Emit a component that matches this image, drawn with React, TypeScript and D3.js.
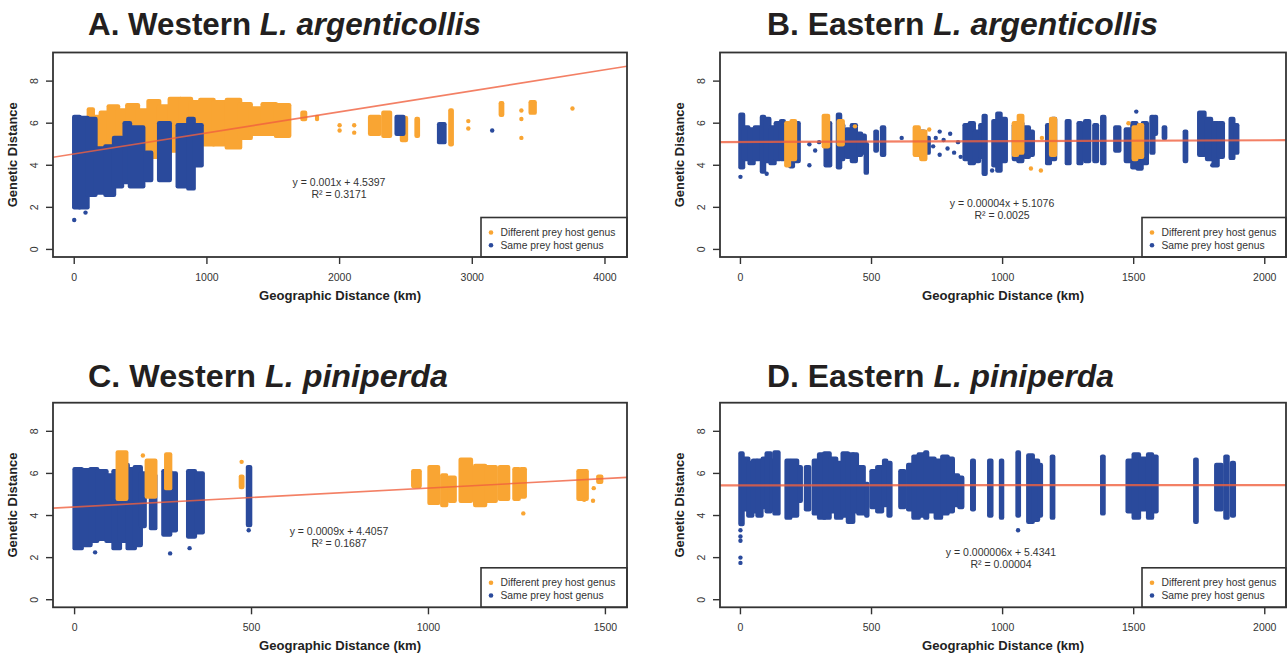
import React from "react";
import * as d3 from "d3";

// Dense point columns are stored as strips [kmFrom, kmTo, distLow, distHigh],
// lone points as [km, dist]. "diff" = different prey host genus, "same" = same genus.

// A. Western L. argenticollis
const aDiff = [
  [110, 140, 4.6, 6.65], [140, 200, 4.5, 6.3], [200, 260, 4.4, 6.5], [260, 330, 4.2, 6.8],
  [330, 400, 4.3, 6.6], [400, 480, 4.4, 6.85], [480, 560, 4.5, 6.6], [560, 640, 4.4, 7.05],
  [640, 720, 4.6, 6.8], [720, 800, 4.7, 7.15], [800, 880, 4.8, 7.15], [880, 950, 4.9, 7.0],
  [950, 1050, 5.0, 7.1], [1050, 1150, 5.0, 7.0], [1150, 1250, 4.85, 7.1], [1250, 1330, 5.3, 6.9],
  [1330, 1420, 5.5, 6.7], [1420, 1520, 5.5, 6.9], [1520, 1620, 5.4, 6.85], [1720, 1740, 6.2, 6.5],
  [2230, 2300, 5.5, 6.3], [2330, 2380, 5.4, 6.5], [2470, 2500, 5.2, 6.25], [2580, 2590, 5.4, 6.2],
  [2835, 2845, 5.0, 6.6], [3215, 3225, 6.4, 6.95], [3440, 3470, 6.5, 7.0],
];
const aDiffPts = [
  [1830, 6.2], [1830, 6.3], [2000, 5.65], [2000, 5.9], [2110, 5.55], [2110, 5.9],
  [2970, 5.75], [2970, 6.1], [3370, 5.3], [3370, 6.2], [3370, 6.6], [3755, 6.7],
];
const aSame = [
  [0, 40, 2.0, 6.3], [40, 100, 2.0, 6.25], [100, 160, 2.6, 6.2], [165, 235, 2.7, 4.8],
  [235, 300, 2.6, 4.9], [300, 360, 3.0, 5.3], [380, 420, 3.2, 6.0], [420, 520, 3.0, 5.8],
  [540, 580, 3.3, 4.6], [640, 720, 3.3, 6.0], [780, 860, 3.0, 5.9], [860, 900, 2.9, 6.2],
  [910, 960, 4.0, 5.9], [2430, 2480, 5.5, 6.3], [2750, 2790, 5.1, 5.95],
];
const aSamePts = [[0, 1.4], [85, 1.75], [870, 2.95], [3150, 5.65]];

// B. Eastern L. argenticollis
const bSame = [
  [0, 10, 3.9, 6.4], [14, 30, 4.3, 5.8], [35, 50, 4.1, 5.7], [55, 72, 4.3, 5.8],
  [82, 90, 3.7, 6.3], [95, 110, 4.2, 6.2], [115, 130, 4.1, 5.8], [135, 150, 4.3, 6.0],
  [155, 165, 4.3, 6.1], [190, 200, 3.95, 5.8], [210, 222, 4.2, 6.0], [325, 342, 4.0, 6.0],
  [372, 380, 3.9, 6.4], [385, 392, 4.3, 5.9], [405, 415, 4.4, 5.7], [425, 440, 4.2, 5.9],
  [450, 460, 4.5, 5.5], [468, 474, 4.6, 5.4], [478, 482, 3.65, 5.0], [515, 520, 4.7, 5.6],
  [540, 548, 4.5, 5.8], [690, 700, 4.4, 5.6], [710, 718, 4.6, 5.3], [855, 870, 4.3, 5.9],
  [875, 890, 4.1, 6.0], [895, 910, 4.2, 5.6], [915, 925, 4.4, 5.9], [928, 935, 3.6, 6.35],
  [965, 975, 4.0, 6.1], [980, 992, 3.75, 6.45], [998, 1012, 4.2, 6.2], [1043, 1055, 4.3, 5.9],
  [1060, 1075, 4.2, 6.0], [1085, 1100, 4.4, 5.8], [1105, 1115, 4.5, 5.6], [1170, 1180, 4.1, 5.9],
  [1190, 1200, 4.3, 6.2], [1245, 1255, 4.1, 6.1], [1290, 1300, 4.1, 6.0], [1315, 1330, 4.2, 6.1],
  [1350, 1360, 4.2, 5.9], [1380, 1388, 4.1, 6.3], [1430, 1445, 4.7, 5.8], [1470, 1485, 4.2, 5.7],
  [1495, 1510, 3.9, 6.0], [1515, 1530, 3.85, 5.9], [1535, 1550, 4.1, 6.0], [1568, 1575, 4.6, 6.3],
  [1580, 1585, 5.5, 6.3], [1615, 1620, 5.3, 5.8], [1695, 1700, 4.2, 5.6], [1750, 1770, 4.5, 6.5],
  [1780, 1795, 4.3, 6.2], [1805, 1820, 4.0, 6.0], [1825, 1840, 4.4, 6.0], [1870, 1880, 4.35, 6.2],
  [1888, 1895, 4.6, 5.9],
];
const bSamePts = [
  [0, 3.45], [100, 3.6], [263, 4.0], [263, 5.0], [285, 4.7], [300, 5.1], [615, 5.3],
  [735, 4.9], [745, 5.3], [760, 4.5], [760, 5.6], [775, 5.2], [790, 4.8], [800, 5.5],
  [815, 4.6], [830, 5.1], [840, 4.4], [960, 3.75], [1510, 6.55], [1800, 4.0],
];
const bDiff = [
  [175, 185, 4.0, 6.0], [195, 208, 4.3, 6.1], [318, 334, 4.9, 6.35], [375, 390, 5.0, 6.1],
  [665, 680, 4.5, 5.8], [690, 705, 4.3, 5.6], [1043, 1055, 4.5, 6.0], [1062, 1075, 4.6, 6.35],
  [1185, 1200, 4.5, 6.2], [1500, 1510, 4.3, 5.8], [1520, 1532, 4.4, 5.9],
];
const bDiffPts = [[437, 5.85], [720, 5.7], [1108, 3.85], [1146, 3.75], [1150, 5.3], [1480, 6.0]];

// C. Western L. piniperda
const cSame = [
  [0, 20, 2.45, 6.2], [20, 45, 2.6, 6.15], [45, 64, 2.8, 6.2], [64, 90, 2.9, 6.1],
  [90, 110, 2.8, 5.9], [110, 128, 2.45, 6.1], [128, 150, 2.8, 6.4], [150, 170, 2.45, 6.2],
  [170, 187, 2.6, 6.3], [187, 198, 3.5, 6.0], [216, 228, 3.4, 5.9], [251, 270, 3.1, 6.1],
  [275, 286, 3.3, 6.0], [321, 340, 3.0, 6.1], [345, 362, 3.2, 6.0], [490, 496, 3.55, 6.3],
];
const cSamePts = [[58, 2.25], [270, 2.2], [325, 2.45], [492, 3.3]];
const cDiff = [
  [122, 146, 4.8, 7.0], [204, 228, 4.9, 6.6], [259, 270, 5.3, 6.9], [470, 474, 5.35, 5.85],
  [957, 975, 5.4, 6.1], [1003, 1027, 4.6, 6.3], [1039, 1050, 4.5, 5.9], [1060, 1074, 4.7, 5.8],
  [1091, 1120, 4.7, 6.65], [1132, 1160, 4.5, 6.35], [1165, 1190, 4.7, 6.3], [1202, 1225, 4.8, 6.3],
  [1243, 1255, 4.8, 6.2], [1262, 1272, 4.9, 6.2], [1424, 1447, 4.8, 6.1], [1480, 1488, 5.6, 5.85],
];
const cDiffPts = [[193, 6.85], [472, 6.55], [1268, 4.1], [1440, 4.75], [1465, 4.7], [1467, 5.3]];

// D. Eastern L. piniperda
const dSame = [
  [0, 8, 3.6, 6.95], [12, 30, 4.3, 6.7], [30, 45, 4.0, 6.5], [48, 62, 4.2, 6.6],
  [65, 80, 4.0, 6.6], [85, 100, 4.4, 6.7], [100, 115, 4.2, 6.95], [118, 130, 4.3, 6.6],
  [130, 145, 4.1, 7.0], [176, 190, 3.9, 6.6], [195, 216, 4.0, 6.6], [225, 230, 4.7, 6.3],
  [250, 262, 4.3, 6.3], [280, 300, 4.1, 6.6], [300, 320, 3.9, 6.9], [320, 340, 3.9, 6.95],
  [345, 365, 4.2, 6.7], [365, 385, 3.9, 6.5], [390, 410, 4.0, 6.95], [410, 430, 3.7, 6.9],
  [430, 444, 4.2, 6.9], [450, 470, 4.1, 6.3], [480, 484, 4.0, 5.5], [500, 515, 4.4, 6.1],
  [522, 540, 4.2, 6.3], [548, 556, 4.5, 6.6], [565, 572, 4.0, 6.5], [610, 625, 4.4, 6.1],
  [640, 660, 4.3, 6.4], [660, 680, 3.9, 6.8], [680, 700, 4.0, 6.9], [705, 712, 3.9, 7.0],
  [720, 740, 4.2, 6.7], [745, 765, 3.9, 6.6], [770, 790, 4.1, 6.8], [795, 810, 4.2, 6.7],
  [815, 830, 4.5, 5.9], [835, 846, 4.4, 5.8], [884, 890, 4.3, 6.6], [949, 957, 4.0, 6.6],
  [994, 998, 3.9, 6.6], [1057, 1062, 4.0, 7.0], [1098, 1115, 3.7, 6.85], [1120, 1135, 3.8, 6.6],
  [1140, 1146, 4.0, 6.4], [1188, 1193, 3.9, 6.8], [1380, 1385, 4.1, 6.8], [1477, 1495, 4.2, 6.6],
  [1500, 1520, 3.9, 6.9], [1525, 1545, 4.3, 6.7], [1555, 1570, 3.9, 6.9], [1575, 1587, 4.2, 6.8],
  [1735, 1740, 3.7, 6.65], [1815, 1835, 4.3, 6.4], [1850, 1858, 3.9, 6.8], [1875, 1882, 4.0, 6.5],
];
const dSamePts = [[0, 1.75], [0, 2.0], [0, 2.8], [0, 3.0], [0, 3.3], [1059, 3.3]];
const dDiff: number[][] = [];
const dDiffPts: number[][] = [];

const titlePrefix = ["A. Western ", "B. Eastern ", "C. Western ", "D. Eastern "];
const titleSpecies = ["L. argenticollis", "L. argenticollis", "L. piniperda", "L. piniperda"];
const slopes = [0.001, 0.00004, 0.0009, 0.000006];
const intercepts = [4.5397, 5.1076, 4.4057, 5.4341];
const eqLabels = ["y = 0.001x + 4.5397", "y = 0.00004x + 5.1076", "y = 0.0009x + 4.4057", "y = 0.000006x + 5.4341"];
const r2Labels = ["R² = 0.3171", "R² = 0.0025", "R² = 0.1687", "R² = 0.00004"];
const xTicksA = [0, 1000, 2000, 3000, 4000];
const xTicksB = [0, 500, 1000, 1500, 2000];
const xTicksC = [0, 500, 1000, 1500];
const yTicks = [0, 2, 4, 6, 8];
const legendLabels = ["Different prey host genus", "Same prey host genus"];

const ORANGE = "#F9A533";
const BLUE = "#2A4A9C";
const INK = "#333333";
const FONT = "'Liberation Sans', Arial, sans-serif";

function Panel(p: any) {
  const [bx0, by0, bx1, by1] = p.box;
  const x = d3.scaleLinear().domain(p.xDomain).range([bx0, bx1]);
  const y = d3.scaleLinear().domain([-0.36, 9.36]).range([by1, by0]);
  const r = 2.2;
  const fitLine = d3.line<number>().x((d) => x(d)).y((d) => y(p.slope * d + p.intercept));

  const strips = (list: number[][], color: string, key: string) =>
    list.map((s, i) => (
      <rect key={key + i} x={x(s[0]) - r} width={x(s[1]) - x(s[0]) + 2 * r}
        y={y(s[3]) - r} height={y(s[2]) - y(s[3]) + 2 * r} rx={r} fill={color} />
    ));
  const dots = (list: number[][], color: string, key: string) =>
    list.map((d, i) => <circle key={key + i} cx={x(d[0])} cy={y(d[1])} r={r} fill={color} />);

  const orange = [strips(p.diff, ORANGE, "od"), dots(p.diffPts, ORANGE, "op")];
  const blue = [strips(p.same, BLUE, "bs"), dots(p.samePts, BLUE, "bp")];
  const cx = (bx0 + bx1) / 2;
  const lx = bx1 - p.legendW;
  const ly = by1 - 39.5;

  return (
    <g fontFamily={FONT}>
      <clipPath id={"clip" + p.id}>
        <rect x={bx0} y={by0} width={bx1 - bx0} height={by1 - by0} />
      </clipPath>
      <text x={p.titleX} y={p.titleY} fontSize={31} fontWeight="bold" fill="#231F20"
        textLength={p.titleLen} lengthAdjust="spacingAndGlyphs">
        {p.prefix}<tspan fontStyle="italic">{p.species}</tspan>
      </text>
      <g clipPath={`url(#clip${p.id})`}>
        {p.blueOnTop ? [orange, blue] : [blue, orange]}
        <path d={fitLine(p.xDomain) || ""} stroke="#F0603F" strokeOpacity={0.8} strokeWidth={p.lineW} fill="none" />
      </g>
      {yTicks.map((t) => (
        <g key={"y" + t}>
          <line x1={bx0 - 7} x2={bx0} y1={y(t)} y2={y(t)} stroke={INK} strokeWidth={1.4} />
          <text transform={`translate(${bx0 - 19},${y(t)}) rotate(-90)`} textAnchor="middle"
            dominantBaseline="central" fontSize={10.5} fill={INK}>{t}</text>
        </g>
      ))}
      {p.xTicks.map((t: number) => (
        <g key={"x" + t}>
          <line x1={x(t)} x2={x(t)} y1={by1} y2={by1 + 7} stroke={INK} strokeWidth={1.4} />
          <text x={x(t)} y={by1 + 20} textAnchor="middle" dominantBaseline="central" fontSize={10.5} fill={INK}>{t}</text>
        </g>
      ))}
      <text transform={`translate(${bx0 - 40},${(by0 + by1) / 2}) rotate(-90)`} textAnchor="middle"
        dominantBaseline="central" fontSize={12} fontWeight="bold" fill="#222"
        textLength={105} lengthAdjust="spacingAndGlyphs">Genetic Distance</text>
      <text x={cx} y={by1 + 39} textAnchor="middle" dominantBaseline="central" fontSize={12}
        fontWeight="bold" fill="#222" textLength={162} lengthAdjust="spacingAndGlyphs">Geographic Distance (km)</text>
      <text x={p.eqX} y={p.eqY} textAnchor="middle" dominantBaseline="central" fontSize={10.5} fill={INK}>{p.eq}</text>
      <text x={p.eqX} y={p.eqY + 12.5} textAnchor="middle" dominantBaseline="central" fontSize={10.5} fill={INK}>{p.r2}</text>
      <rect x={lx} y={ly} width={p.legendW} height={by1 - ly} fill="white" stroke={INK} strokeWidth={1.6} />
      {legendLabels.map((l, i) => (
        <g key={l}>
          <circle cx={lx + 10} cy={ly + 15 + i * 12.7} r={2.3} fill={i === 0 ? ORANGE : BLUE} />
          <text x={lx + 19.5} y={ly + 15 + i * 12.7} dominantBaseline="central" fontSize={10.3} fill={INK}>{l}</text>
        </g>
      ))}
      <rect x={bx0} y={by0} width={bx1 - bx0} height={by1 - by0} fill="none" stroke={INK} strokeWidth={1.8} />
    </g>
  );
}

export default function App() {
  const panels = [
    { box: [53, 52.5, 627, 257], xDomain: [-160, 4166], xTicks: xTicksA, same: aSame, samePts: aSamePts,
      diff: aDiff, diffPts: aDiffPts, blueOnTop: true, titleX: 88, titleY: 35, titleLen: 393,
      eqX: 339, eqY: 181.7, legendW: 146, lineW: 1.6 },
    { box: [720, 52.5, 1286, 257], xDomain: [-78, 2081], xTicks: xTicksB, same: bSame, samePts: bSamePts,
      diff: bDiff, diffPts: bDiffPts, blueOnTop: false, titleX: 767, titleY: 35, titleLen: 391,
      eqX: 1002, eqY: 202.7, legendW: 144, lineW: 2.2 },
    { box: [53, 402.7, 627, 607.3], xDomain: [-61, 1561], xTicks: xTicksC, same: cSame, samePts: cSamePts,
      diff: cDiff, diffPts: cDiffPts, blueOnTop: false, titleX: 88, titleY: 386.5, titleLen: 360,
      eqX: 339, eqY: 530.7, legendW: 146, lineW: 1.6 },
    { box: [720, 402.7, 1286, 607.3], xDomain: [-78, 2081], xTicks: xTicksB, same: dSame, samePts: dSamePts,
      diff: dDiff, diffPts: dDiffPts, blueOnTop: false, titleX: 767, titleY: 386.5, titleLen: 347,
      eqX: 1001, eqY: 551.7, legendW: 144, lineW: 2.2 },
  ];
  return (
    <svg width={1288} height={657} style={{ position: "fixed", left: 0, top: 0, background: "white" }}>
      {panels.map((p, i) => (
        <Panel key={i} id={i} {...p} prefix={titlePrefix[i]} species={titleSpecies[i]}
          slope={slopes[i]} intercept={intercepts[i]} eq={eqLabels[i]} r2={r2Labels[i]} />
      ))}
    </svg>
  );
}
